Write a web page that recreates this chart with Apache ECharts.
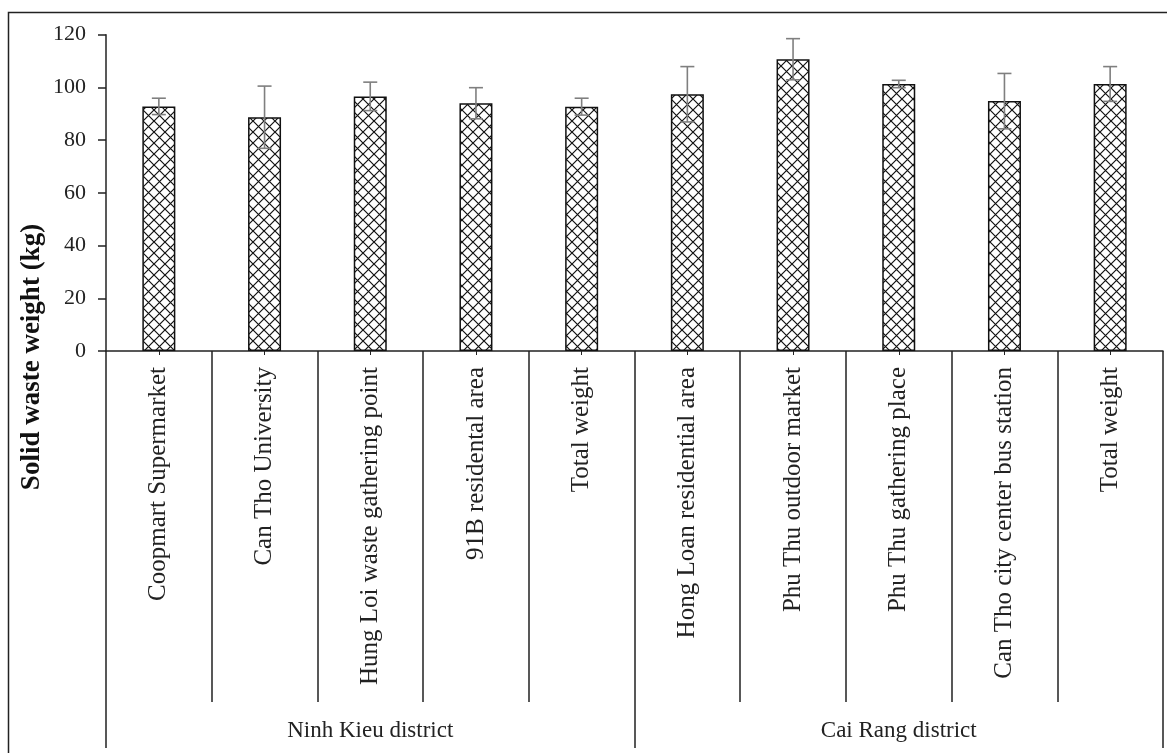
<!DOCTYPE html>
<html>
<head>
<meta charset="utf-8">
<style>
  html, body { margin: 0; padding: 0; background: #fff; }
  #chart { width: 1167px; height: 753px; }
</style>
<script src="https://cdn.jsdelivr.net/npm/echarts@6/dist/echarts.min.js"></script>
</head>
<body>
<div id="chart"></div>
<script>
var categories = ['Coopmart Supermarket', 'Can Tho University', 'Hung Loi waste gathering point',
  '91B residental area', 'Total weight', 'Hong Loan residential area', 'Phu Thu outdoor market',
  'Phu Thu gathering place', 'Can Tho city center bus station', 'Total weight'];
var districts = ['Ninh Kieu district', 'Cai Rang district'];
var weights = [92.8, 88.7, 96.6, 94.0, 92.7, 97.4, 110.7, 101.3, 94.8, 101.3];
var errors = [3.1, 11.8, 5.4, 5.9, 3.2, 10.5, 7.8, 1.4, 10.5, 6.6];

var FONT = 'Liberation Serif';

// cross hatch fill like the excel pattern
function hatch() {
  var c = document.createElement('canvas');
  c.width = 11; c.height = 11;
  var g = c.getContext('2d');
  g.fillStyle = '#fff';
  g.fillRect(0, 0, 11, 11);
  g.strokeStyle = '#111';
  g.lineWidth = 1.2;
  g.beginPath();
  g.moveTo(0, 0); g.lineTo(11, 11);
  g.moveTo(11, 0); g.lineTo(0, 11);
  g.stroke();
  return c;
}

var errData = weights.map(function (v, i) { return [i, v, errors[i]]; });

var myChart = echarts.init(document.getElementById('chart'));

myChart.setOption({
  animation: false,
  grid: { left: 106, right: 4, top: 34.7, bottom: 402 },
  xAxis: [{
    type: 'category',
    data: categories,
    axisLine: { show: true, lineStyle: { color: '#222', width: 1.5 } },
    axisTick: { show: true, interval: 0, length: 351, lineStyle: { color: '#222', width: 1.5 } },
    axisLabel: {
      interval: 0, rotate: 90, margin: 16,
      fontFamily: FONT, fontSize: 25, color: '#222'
    }
  }, {
    type: 'category',
    data: districts,
    position: 'bottom',
    offset: 351,
    axisLine: { show: false },
    axisTick: { show: true, interval: 0, length: 46, lineStyle: { color: '#222', width: 1.5 } },
    axisLabel: { interval: 0, margin: 17, fontFamily: FONT, fontSize: 23, color: '#222' }
  }, {
    type: 'category',
    data: categories,
    position: 'bottom',
    axisLine: { show: false },
    axisTick: { show: true, interval: 0, alignWithLabel: true, length: 4, lineStyle: { color: '#222', width: 1 } },
    axisLabel: { show: false }
  }],
  yAxis: {
    type: 'value',
    min: 0, max: 120, interval: 20,
    axisLine: { show: true, lineStyle: { color: '#222', width: 1.5 } },
    axisTick: { show: true, length: 8, lineStyle: { color: '#222', width: 1.5 } },
    splitLine: { show: false },
    axisLabel: { margin: 20, fontFamily: FONT, fontSize: 22, color: '#222' }
  },
  series: [{
    type: 'bar',
    xAxisIndex: 0,
    data: weights,
    barWidth: 33,
    itemStyle: {
      color: { image: hatch(), repeat: 'repeat' },
      borderColor: '#111',
      borderWidth: 1.5
    }
  }, {
    type: 'custom',
    xAxisIndex: 0,
    data: errData,
    z: 5,
    renderItem: function (params, api) {
      var x = api.value(0), v = api.value(1), e = api.value(2);
      var hi = api.coord([x, v + e]);
      var lo = api.coord([x, v - e]);
      var st = { stroke: '#7f7f7f', lineWidth: 1.6 };
      return {
        type: 'group',
        children: [
          { type: 'line', shape: { x1: hi[0], y1: hi[1], x2: lo[0], y2: lo[1] }, style: st },
          { type: 'line', shape: { x1: hi[0] - 7, y1: hi[1], x2: hi[0] + 7, y2: hi[1] }, style: st },
          { type: 'line', shape: { x1: lo[0] - 7, y1: lo[1], x2: lo[0] + 7, y2: lo[1] }, style: st }
        ]
      };
    }
  }],
  graphic: [{
    type: 'polyline',
    shape: { points: [[8.5, 753], [8.5, 12.5], [1167, 12.5]] },
    style: { stroke: '#222', lineWidth: 1.5, fill: null }
  }, {
    type: 'text',
    x: 32, y: 357,
    rotation: Math.PI / 2,
    style: {
      text: 'Solid waste weight (kg)',
      fontFamily: FONT, fontSize: 27, fontWeight: 'bold', fill: '#111',
      align: 'center', verticalAlign: 'middle'
    }
  }]
});
</script>
</body>
</html>
